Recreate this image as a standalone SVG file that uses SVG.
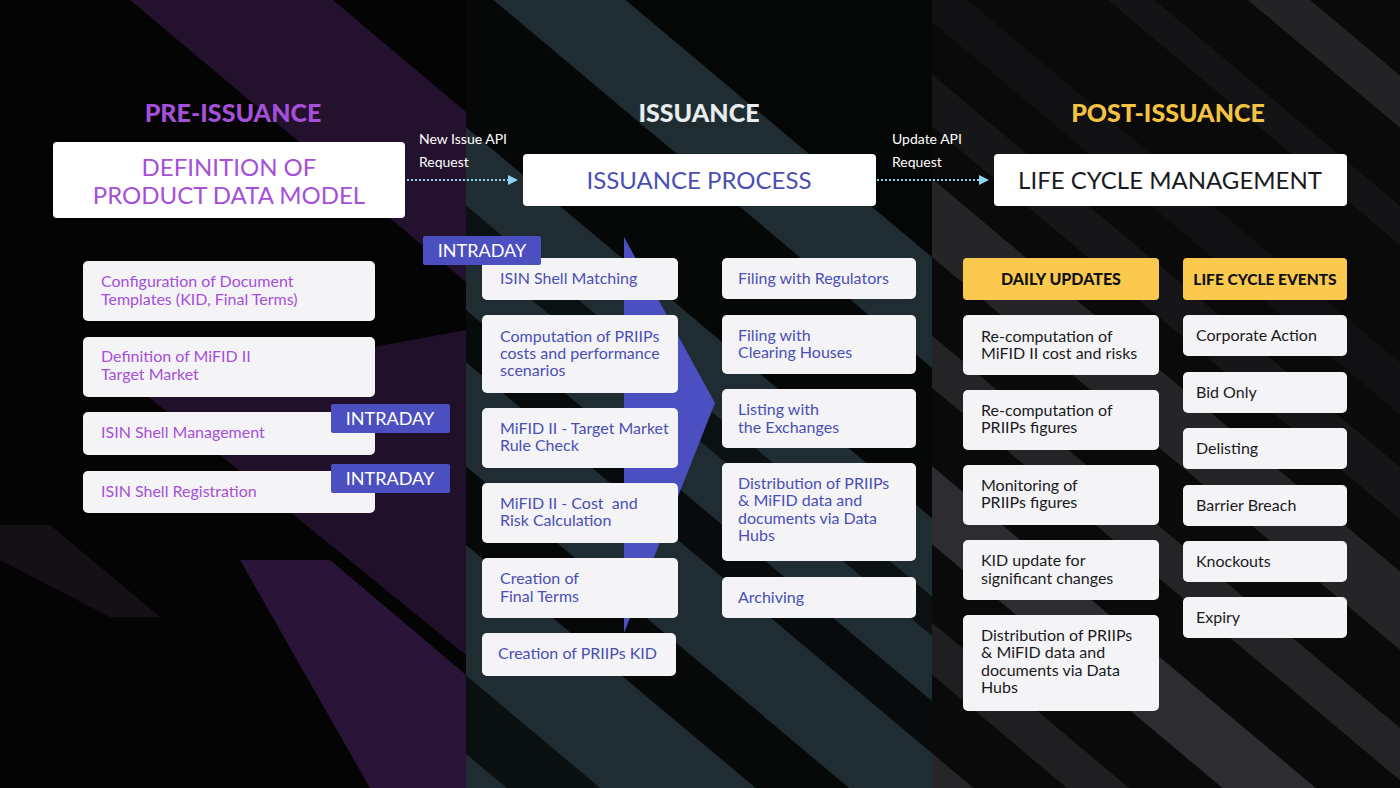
<svg xmlns="http://www.w3.org/2000/svg" width="1400" height="788" viewBox="0 0 1400 788">
<defs>
<style>
.box{fill:#f4f4f6;}
.t{font-family:Lato,"Open Sans",sans-serif;font-size:16px;}
.pur{fill:#a64fd9;}
.ind{fill:#4a4fb5;}
.blk{fill:#1a1a1e;}
.hdr{font-family:Lato,"Open Sans",sans-serif;font-size:25px;font-weight:900;text-anchor:middle;}
.big{font-family:Lato,"Open Sans",sans-serif;font-size:24px;text-anchor:middle;}
.badge{fill:#4b4fbf;}
.bt{font-family:Lato,"Open Sans",sans-serif;font-size:18px;fill:#ffffff;text-anchor:middle;}
.lbl{font-family:Lato,"Open Sans",sans-serif;font-size:14px;fill:#ffffff;}
.yh{fill:#fbc94e;}
.yt{font-family:Lato,"Open Sans",sans-serif;font-weight:900;fill:#111111;text-anchor:middle;}
.conn{stroke:#8fd3f0;stroke-width:2;stroke-dasharray:2 2;fill:none;}
</style>
<clipPath id="cL"><rect x="0" y="0" width="466" height="788"/></clipPath>
<clipPath id="cM"><rect x="466" y="0" width="466" height="788"/></clipPath>
<clipPath id="cR"><rect x="932" y="0" width="468" height="788"/></clipPath>
<marker id="ah" viewBox="0 0 10 10" refX="8" refY="5" markerWidth="5" markerHeight="5" orient="auto"><path d="M0,0 L10,5 L0,10 z" fill="#8fd3f0"/></marker>
</defs>

<g id="background">
<rect x="0" y="0" width="1400" height="788" fill="#050405"/>
<g clip-path="url(#cL)">
<polygon points="130,0 333,0 466,112 466,282" fill="#24112e"/>
<polygon points="140,390 466,330 466,655" fill="#211029"/>
<polygon points="240,560 330,560 466,675 466,788 370,788" fill="#2a1538"/>
<polygon points="0,525 50,525 160,617 110,617 0,560" fill="#141016"/>
</g>
<g clip-path="url(#cM)">
<rect x="466" y="0" width="466" height="788" fill="#1f2c31"/>
<g transform="rotate(40 700 394)">
<rect x="-900" y="-300" width="3000" height="440" fill="#050606"/>
<rect x="-900" y="225" width="3000" height="115" fill="#060707"/>
<rect x="-900" y="400" width="3000" height="30" fill="#0b1113"/>
<rect x="-900" y="480" width="3000" height="40" fill="#080b0c"/>
<rect x="-900" y="600" width="3000" height="60" fill="#070909"/>
<rect x="-900" y="760" width="3000" height="60" fill="#0a0f10"/>
</g>
</g>
<g clip-path="url(#cR)">
<rect x="932" y="0" width="468" height="788" fill="#0a0a0b"/>
<g transform="rotate(40 700 394)">
<rect x="-900" y="-300" width="3000" height="40" fill="#232326"/>
<rect x="-900" y="-200" width="3000" height="30" fill="#141416"/>
<rect x="-900" y="-80" width="3000" height="40" fill="#111113"/>
<rect x="-900" y="0" width="3000" height="40" fill="#161618"/>
<rect x="-900" y="80" width="3000" height="60" fill="#252528"/>
<rect x="-900" y="200" width="3000" height="40" fill="#242427"/>
<rect x="-900" y="300" width="3000" height="60" fill="#2d2d31"/>
<rect x="-900" y="420" width="3000" height="40" fill="#1f1f22"/>
<rect x="-900" y="520" width="3000" height="80" fill="#262629"/>
</g>
</g>
<polygon points="624,237 715,403 624,633" fill="#4b4fbf"/>
</g>

<g id="headers">
<text class="hdr" x="233" y="122" fill="#a64fd9">PRE-ISSUANCE</text>
<text class="hdr" x="699" y="122" fill="#e8eef0">ISSUANCE</text>
<text class="hdr" x="1168" y="122" fill="#f5c342">POST-ISSUANCE</text>
</g>

<g id="connectors">
<line class="conn" x1="407" y1="180" x2="516" y2="180" marker-end="url(#ah)"/>
<line class="conn" x1="877" y1="180" x2="987" y2="180" marker-end="url(#ah)"/>
<text class="lbl" x="419" y="144">New Issue API</text>
<text class="lbl" x="419" y="167">Request</text>
<text class="lbl" x="892" y="144">Update API</text>
<text class="lbl" x="892" y="167">Request</text>
</g>

<g id="n-definition">
<rect x="53" y="142" width="352" height="76" rx="4" fill="#ffffff"/>
<text class="big pur" x="229" y="176">DEFINITION OF</text>
<text class="big pur" x="229" y="204">PRODUCT DATA MODEL</text>
</g>
<g id="n-issuance-process">
<rect x="523" y="154" width="353" height="52" rx="4" fill="#ffffff"/>
<text class="big ind" x="699" y="189">ISSUANCE PROCESS</text>
</g>
<g id="n-lifecycle">
<rect x="994" y="154" width="353" height="52" rx="4" fill="#ffffff"/>
<text class="big blk" x="1170" y="189">LIFE CYCLE MANAGEMENT</text>
</g>

<g id="n-config">
<rect class="box" x="83" y="261" width="292" height="60" rx="5"/>
<text class="t pur" x="101" y="287">Configuration of Document</text>
<text class="t pur" x="101" y="305">Templates (KID, Final Terms)</text>
</g>
<g id="n-def-mifid">
<rect class="box" x="83" y="337" width="292" height="60" rx="5"/>
<text class="t pur" x="101" y="362">Definition of MiFID II</text>
<text class="t pur" x="101" y="380">Target Market</text>
</g>
<g id="n-isin-mgmt">
<rect class="box" x="83" y="412" width="292" height="43" rx="5"/>
<text class="t pur" x="101" y="438">ISIN Shell Management</text>
</g>
<g id="n-isin-reg">
<rect class="box" x="83" y="471" width="292" height="42" rx="5"/>
<text class="t pur" x="101" y="497">ISIN Shell Registration</text>
</g>
<g id="b-intraday-1">
<rect class="badge" x="331" y="404" width="119" height="29" rx="2"/>
<text class="bt" x="390" y="425">INTRADAY</text>
</g>
<g id="b-intraday-2">
<rect class="badge" x="331" y="464" width="119" height="29" rx="2"/>
<text class="bt" x="390" y="485">INTRADAY</text>
</g>

<g id="n-isin-match">
<rect class="box" x="482" y="258" width="196" height="42" rx="5"/>
<text class="t ind" x="500" y="284">ISIN Shell Matching</text>
</g>
<g id="b-intraday-3">
<rect class="badge" x="423" y="236" width="118" height="29" rx="2"/>
<text class="bt" x="482" y="257">INTRADAY</text>
</g>
<g id="n-computation">
<rect class="box" x="482" y="315" width="196" height="78" rx="5"/>
<text class="t ind" x="500" y="342">Computation of PRIIPs</text>
<text class="t ind" x="500" y="359">costs and performance</text>
<text class="t ind" x="500" y="376">scenarios</text>
</g>
<g id="n-target-check">
<rect class="box" x="482" y="408" width="196" height="60" rx="5"/>
<text class="t ind" x="500" y="434">MiFID II - Target Market</text>
<text class="t ind" x="500" y="451">Rule Check</text>
</g>
<g id="n-cost-risk">
<rect class="box" x="482" y="483" width="196" height="60" rx="5"/>
<text class="t ind" x="500" y="509">MiFID II - Cost&#160; and</text>
<text class="t ind" x="500" y="526">Risk Calculation</text>
</g>
<g id="n-final-terms">
<rect class="box" x="482" y="558" width="196" height="60" rx="5"/>
<text class="t ind" x="500" y="584">Creation of</text>
<text class="t ind" x="500" y="602">Final Terms</text>
</g>
<g id="n-priips-kid">
<rect class="box" x="482" y="633" width="194" height="43" rx="5"/>
<text class="t ind" x="498" y="659">Creation of PRIIPs KID</text>
</g>

<g id="n-regulators">
<rect class="box" x="722" y="258" width="194" height="41" rx="5"/>
<text class="t ind" x="738" y="284">Filing with Regulators</text>
</g>
<g id="n-clearing">
<rect class="box" x="722" y="315" width="194" height="59" rx="5"/>
<text class="t ind" x="738" y="341">Filing with</text>
<text class="t ind" x="738" y="358">Clearing Houses</text>
</g>
<g id="n-listing">
<rect class="box" x="722" y="389" width="194" height="59" rx="5"/>
<text class="t ind" x="738" y="415">Listing with</text>
<text class="t ind" x="738" y="433">the Exchanges</text>
</g>
<g id="n-distribution-1">
<rect class="box" x="722" y="463" width="194" height="98" rx="5"/>
<text class="t ind" x="738" y="489">Distribution of PRIIPs</text>
<text class="t ind" x="738" y="506">&amp; MiFID data and</text>
<text class="t ind" x="738" y="524">documents via Data</text>
<text class="t ind" x="738" y="541">Hubs</text>
</g>
<g id="n-archiving">
<rect class="box" x="722" y="577" width="194" height="41" rx="5"/>
<text class="t ind" x="738" y="603">Archiving</text>
</g>

<g id="h-daily">
<rect class="yh" x="963" y="258" width="196" height="42" rx="4"/>
<text class="yt" x="1061" y="285" font-size="16">DAILY UPDATES</text>
</g>
<g id="n-recomp-mifid">
<rect class="box" x="963" y="315" width="196" height="60" rx="5"/>
<text class="t blk" x="981" y="342">Re-computation of</text>
<text class="t blk" x="981" y="359">MiFID II cost and risks</text>
</g>
<g id="n-recomp-priips">
<rect class="box" x="963" y="390" width="196" height="60" rx="5"/>
<text class="t blk" x="981" y="416">Re-computation of</text>
<text class="t blk" x="981" y="433">PRIIPs figures</text>
</g>
<g id="n-monitoring">
<rect class="box" x="963" y="465" width="196" height="60" rx="5"/>
<text class="t blk" x="981" y="491">Monitoring of</text>
<text class="t blk" x="981" y="508">PRIIPs figures</text>
</g>
<g id="n-kid-update">
<rect class="box" x="963" y="540" width="196" height="60" rx="5"/>
<text class="t blk" x="981" y="566">KID update for</text>
<text class="t blk" x="981" y="584">significant changes</text>
</g>
<g id="n-distribution-2">
<rect class="box" x="963" y="615" width="196" height="96" rx="5"/>
<text class="t blk" x="981" y="641">Distribution of PRIIPs</text>
<text class="t blk" x="981" y="658">&amp; MiFID data and</text>
<text class="t blk" x="981" y="676">documents via Data</text>
<text class="t blk" x="981" y="693">Hubs</text>
</g>

<g id="h-events">
<rect class="yh" x="1183" y="258" width="164" height="42" rx="4"/>
<text class="yt" x="1265" y="285" font-size="15.5">LIFE CYCLE EVENTS</text>
</g>
<g id="n-corporate">
<rect class="box" x="1183" y="315" width="164" height="41" rx="5"/>
<text class="t blk" x="1196" y="341">Corporate Action</text>
</g>
<g id="n-bid-only">
<rect class="box" x="1183" y="372" width="164" height="41" rx="5"/>
<text class="t blk" x="1196" y="398">Bid Only</text>
</g>
<g id="n-delisting">
<rect class="box" x="1183" y="428" width="164" height="41" rx="5"/>
<text class="t blk" x="1196" y="454">Delisting</text>
</g>
<g id="n-barrier">
<rect class="box" x="1183" y="485" width="164" height="41" rx="5"/>
<text class="t blk" x="1196" y="511">Barrier Breach</text>
</g>
<g id="n-knockouts">
<rect class="box" x="1183" y="541" width="164" height="41" rx="5"/>
<text class="t blk" x="1196" y="567">Knockouts</text>
</g>
<g id="n-expiry">
<rect class="box" x="1183" y="597" width="164" height="41" rx="5"/>
<text class="t blk" x="1196" y="623">Expiry</text>
</g>
</svg>
